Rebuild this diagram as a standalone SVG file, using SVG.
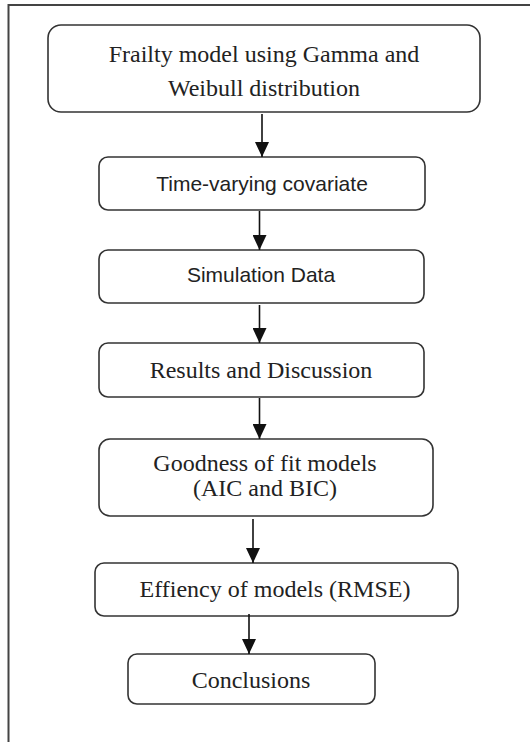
<svg xmlns="http://www.w3.org/2000/svg" width="530" height="742" viewBox="0 0 530 742">
<defs>
<marker id="ah" markerUnits="userSpaceOnUse" markerWidth="16" markerHeight="14" refX="15" refY="7" orient="auto" viewBox="0 0 16 14">
<polygon points="0,0 15,7 0,14" fill="#111"/>
</marker>
<style>
.box{fill:#fff;stroke:#333;stroke-width:1.6}
.serif{font-family:"Liberation Serif","Times New Roman",serif;font-size:24px;fill:#222;text-anchor:middle}
.sans{font-family:"Liberation Sans",Arial,sans-serif;font-size:21px;fill:#222;text-anchor:middle}
.conn{stroke:#111;stroke-width:1.6;fill:none}
</style>
</defs>
<rect x="0" y="0" width="530" height="742" fill="#fff"/>
<path d="M8.5,742 V5 H530" fill="none" stroke="#444" stroke-width="2"/>
<g id="n1">
<rect class="box" x="48" y="25" width="432" height="87" rx="13"/>
<text class="serif" x="264" y="62">Frailty model using Gamma and</text>
<text class="serif" x="264" y="96">Weibull distribution</text>
</g>
<g id="n2">
<rect class="box" x="99" y="157" width="326" height="53" rx="9"/>
<text class="sans" x="262" y="191">Time-varying covariate</text>
</g>
<g id="n3">
<rect class="box" x="99" y="250" width="325" height="53" rx="9"/>
<text class="sans" x="261" y="282">Simulation Data</text>
</g>
<g id="n4">
<rect class="box" x="99" y="343" width="325" height="54" rx="9"/>
<text class="serif" x="261" y="378">Results and Discussion</text>
</g>
<g id="n5">
<rect class="box" x="99" y="439" width="334" height="77" rx="11"/>
<text class="serif" x="265" y="471">Goodness of fit models</text>
<text class="serif" x="265" y="496">(AIC and BIC)</text>
</g>
<g id="n6">
<rect class="box" x="95" y="563" width="363" height="53" rx="9"/>
<text class="serif" x="275" y="597">Effiency of models (RMSE)</text>
</g>
<g id="n7">
<rect class="box" x="128" y="654" width="247" height="50" rx="9"/>
<text class="serif" x="251" y="688">Conclusions</text>
</g>
<g id="connectors">
<line class="conn" x1="262" y1="114" x2="262" y2="157" marker-end="url(#ah)"/>
<line class="conn" x1="259.5" y1="211" x2="259.5" y2="250" marker-end="url(#ah)"/>
<line class="conn" x1="259.5" y1="305" x2="259.5" y2="343" marker-end="url(#ah)"/>
<line class="conn" x1="259.5" y1="398" x2="259.5" y2="439" marker-end="url(#ah)"/>
<line class="conn" x1="253" y1="519" x2="253" y2="563" marker-end="url(#ah)"/>
<line class="conn" x1="249" y1="614" x2="249" y2="654" marker-end="url(#ah)"/>
</g>
</svg>
